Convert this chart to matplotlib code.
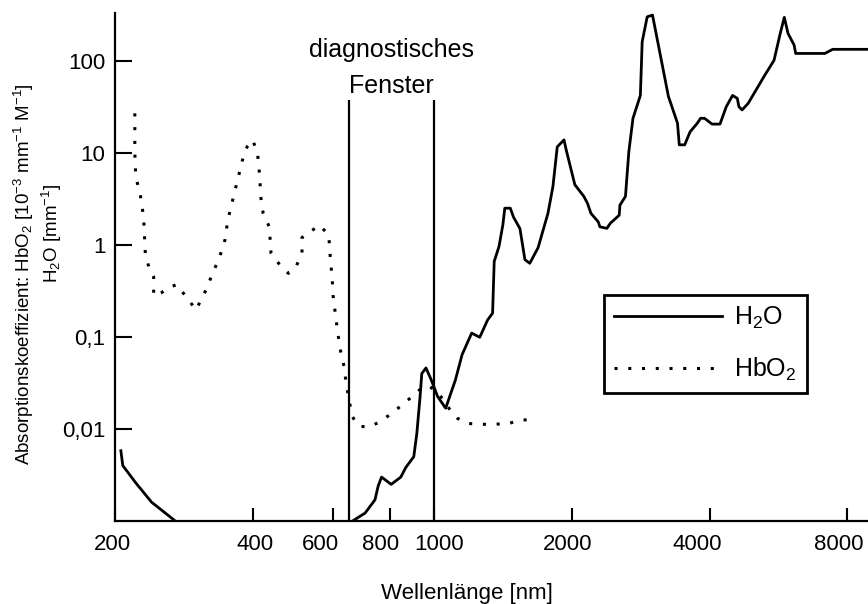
import numpy as np
import matplotlib
matplotlib.use("Agg")
import matplotlib.pyplot as plt
from matplotlib.transforms import ScaledTranslation

plt.rcParams['font.family'] = ['Liberation Sans', 'DejaVu Sans']
plt.rcParams['mathtext.fontset'] = 'custom'
plt.rcParams['mathtext.rm'] = 'Liberation Sans'
plt.rcParams['mathtext.it'] = 'Liberation Sans:italic'
plt.rcParams['mathtext.bf'] = 'Liberation Sans:bold'

# H2O absorption, UV part and NIR/IR part (break = off the axis)
h2o_wl = [206, 208, 222, 240.5, 269, np.nan,
          666, 705, 741, 753, 766, 804, 844, 865, 901, 915, 930, 938, 958, 984,
          1016, 1058, 1111, 1149, 1206, 1256, 1307, 1340, 1351, 1384, 1411, 1425,
          1465, 1489, 1538, 1577, 1616, 1685, 1771, 1816, 1856, 1920, 1942, 2028,
          2122, 2161, 2199, 2281, 2301, 2383, 2426, 2536, 2545, 2617, 2662, 2718,
          2821, 2847, 2920, 2999, 3249, 3401, 3432, 3527, 3624, 3757, 3820, 3897,
          4047, 4213, 4349, 4488, 4597, 4634, 4709, 4855, 5283, 5531, 5707, 5825,
          5935, 6120, 6168, 7145, 7435, 8900]
h2o_val = [0.0058, 0.0040, 0.0026, 0.0016, 0.00103, np.nan,
           0.00102, 0.00122, 0.0017, 0.0024, 0.0030, 0.0025, 0.0030, 0.0038, 0.0050,
           0.009, 0.0225, 0.040, 0.046, 0.034,
           0.0225, 0.0168, 0.034, 0.064, 0.11, 0.099, 0.153, 0.181, 0.66, 0.96, 1.64, 2.5,
           2.5, 2.0, 1.5, 0.69, 0.63, 0.93, 2.2, 4.3, 11.6, 13.8, 10.7, 4.5,
           3.36, 2.83, 2.2, 1.78, 1.57, 1.51, 1.72, 2.1, 2.7, 3.36, 10.3, 23.7,
           42, 161, 300, 313, 41, 21, 12.2, 12.2, 16.9, 20.9, 23.7, 23.7,
           20.5, 20.5, 31.7, 42, 39, 31.7, 29.2, 34.4, 70, 101, 198, 296,
           198, 148, 120, 120, 133, 133]

# HbO2 absorption
hbo2_wl = [221, 221, 222, 227, 231, 233, 237, 243, 243, 252, 265, 273, 285, 301,
           308, 316, 329, 337, 348, 353, 362, 371, 380, 389, 400, 410, 414, 418,
           422, 435, 439, 456, 479, 498, 513, 513, 528, 560, 587, 592, 597, 600,
           604, 613, 622, 634, 638, 648, 661, 683, 718, 753, 791, 830, 872, 926,
           968, 1016, 1066, 1121, 1177, 1236, 1307, 1372, 1441, 1514, 1591]
hbo2_val = [26.8, 10.0, 5.5, 3.6, 2.0, 0.81, 0.58, 0.45, 0.28, 0.30, 0.35, 0.37, 0.28, 0.196,
            0.25, 0.32, 0.53, 0.68, 1.13, 1.85, 3.1, 5.1, 8.3, 11.6, 13.8, 10.0, 6.0, 2.8,
            2.2, 1.57, 0.81, 0.63, 0.49, 0.58, 0.81, 1.2, 1.33, 1.63, 1.29, 0.69, 0.45, 0.28,
            0.215, 0.12, 0.073, 0.048, 0.037, 0.0225, 0.0136, 0.0107, 0.0105, 0.0117, 0.0138,
            0.0166, 0.0203, 0.0264,
            0.0295, 0.0254, 0.0177, 0.0131, 0.0115, 0.0113, 0.0112, 0.0113, 0.0113, 0.0122, 0.0126]

window = [650, 1000]
window_top = 37

xticks = [200, 400, 600, 800, 1000, 2000, 4000, 8000]
xtick_labels = ['200', '400', '600', '800', '1000', '2000', '4000', '8000']
# the printed labels sit a little off their ticks (pixels)
xtick_nudge = [-3, 2, -13, -10, 5, -4, -12, -9]
yticks = [0.01, 0.1, 1, 10, 100]
ytick_labels = ['0,01', '0,1', '1', '10', '100']

fig = plt.figure(figsize=(8.68, 6.04), dpi=100)
ax = fig.add_axes([115/868, 83/604, 753/868, 508/604])

ax.plot(h2o_wl, h2o_val, color='black', lw=2.0, label='H$_2$O')
ax.plot(hbo2_wl, hbo2_val, color='black', lw=2.2, linestyle=(0, (1, 3.5)), label='HbO$_2$')
ax.vlines(window, 0.001, window_top, color='black', lw=1.6)

ax.set_xscale('log')
ax.set_yscale('log')
ax.set_xlim(200, 8880)
ax.set_ylim(0.001, 330)
ax.set_xticks(xticks, labels=xtick_labels)
ax.set_yticks(yticks, labels=ytick_labels)
ax.minorticks_off()
ax.tick_params(axis='both', direction='in', width=1.5, labelsize=16)
ax.tick_params(axis='x', length=9.5, pad=9)
ax.tick_params(axis='y', length=12, pad=7)
for s in ['top', 'right']:
    ax.spines[s].set_visible(False)
for s in ['left', 'bottom']:
    ax.spines[s].set_linewidth(1.6)

for lab, dx in zip(ax.get_xticklabels(), xtick_nudge):
    lab.set_transform(lab.get_transform() + ScaledTranslation(dx / 100, 0, fig.dpi_scale_trans))

ax.text(806, 110, 'diagnostisches', ha='center', va='baseline', fontsize=18)
ax.text(806, 45, 'Fenster', ha='center', va='baseline', fontsize=18)

fig.text(467/868, 5/604, 'Wellenlänge [nm]', ha='center', va='baseline', fontsize=16)
fig.text(24/868, 1 - 465/604, 'Absorptionskoeffizient: HbO$_2$ [10$^{-3}$ mm$^{-1}$ M$^{-1}$]',
         rotation=90, ha='center', va='bottom', fontsize=13.5)
fig.text(52/868, 1 - 283/604, 'H$_2$O [mm$^{-1}$]', rotation=90, ha='center', va='bottom',
         fontsize=13.5)

leg = ax.legend(loc='upper left', bbox_to_anchor=(604/868, 1 - 295/604),
                bbox_transform=fig.transFigure, fontsize=18, handlelength=4.3,
                handletextpad=0.5, labelspacing=1.0, borderpad=0.4, borderaxespad=0,
                fancybox=False, framealpha=1, edgecolor='black')
leg.get_frame().set_linewidth(2)

fig.savefig('out.png', dpi=100, facecolor='white')
